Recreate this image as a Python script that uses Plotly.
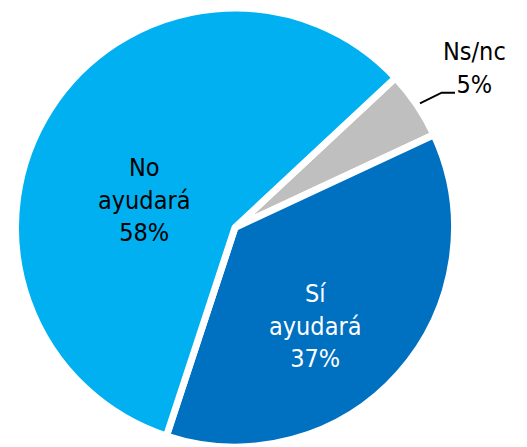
import plotly.graph_objects as go

labels = ["Ns/nc", "Sí ayudará", "No ayudará"]
label_lines = ["Ns/nc", "Sí<br>ayudará", "No<br>ayudará"]
values = [5, 37, 58]
colors = ["#BFBFBF", "#0070C0", "#00B0F0"]
text_colors = ["#000000", "#FFFFFF", "#000000"]
# label anchor positions (paper coordinates)
label_x = [0.8979, 0.5915, 0.2620]
label_y = [0.8633, 0.2756, 0.5626]

FONT = "DejaVu Sans Condensed"

fig = go.Figure(go.Pie(
    labels=labels,
    values=values,
    sort=False,
    direction="clockwise",
    rotation=47,
    marker=dict(colors=colors, line=dict(color="white", width=7)),
    textinfo="none",
    domain=dict(x=[0.01445, 0.8603], y=[0.0, 1.0]),
    showlegend=False,
    hoverinfo="label+percent",
))

total = sum(values)
for lab, v, c, x, y in zip(label_lines, values, text_colors, label_x, label_y):
    fig.add_annotation(
        x=x, y=y, xref="paper", yref="paper",
        text=f"{lab}<br>{round(100 * v / total)}%",
        showarrow=False, align="center",
        xanchor="center", yanchor="middle",
        font=dict(family=FONT, size=25, color=c),
    )

fig.add_shape(type="path", xref="paper", yref="paper",
              path="M 0.7938 0.7829 L 0.8356 0.8071 L 0.8613 0.8071",
              line=dict(color="black", width=2))

fig.update_layout(
    width=519, height=439,
    margin=dict(l=0, r=0, t=0, b=0),
    paper_bgcolor="white",
    plot_bgcolor="white",
)

fig.write_html("out.html")
